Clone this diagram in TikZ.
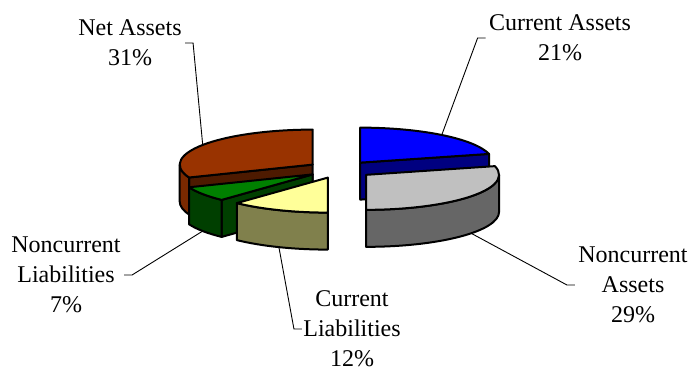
\documentclass[tikz,border=0pt]{standalone}
\usepackage{fontspec}
\setmainfont{Liberation Serif}
\usetikzlibrary{calc}

\definecolor{caTop}{HTML}{0000FF}
\definecolor{caSide}{HTML}{000080}
\definecolor{ncaTop}{HTML}{C0C0C0}
\definecolor{ncaSide}{HTML}{666666}
\definecolor{clTop}{HTML}{FFFF99}
\definecolor{clSide}{HTML}{80804C}
\definecolor{nlTop}{HTML}{008000}
\definecolor{nlSide}{HTML}{003F00}
\definecolor{naTop}{HTML}{993300}
\definecolor{naSide}{HTML}{7A2900}
\definecolor{naCut}{HTML}{4D1A00}

\tikzset{
  face/.style={draw=black, line width=1pt, line join=round},
  rad/.style={x radius=133, y radius=35},
  leader/.style={draw=black, line width=0.45pt},
  pielabel/.style={align=center, inner sep=0pt, font=\fontsize{12}{15}\selectfont},
}

\begin{document}
\begin{tikzpicture}[x=0.5pt,y=-0.5pt]
\useasboundingbox (0,0) rectangle (689,369);

% pie centre and the exploded slice centres
\coordinate (o) at (340,169.5);
\coordinate (ca)  at ($(o)+(-52.2:33 and 8.7)$);
\coordinate (nca) at ($(o)+(37.8:33 and 8.7)$);
\coordinate (cl)  at ($(o)+(111.6:33 and 8.7)$);
\coordinate (nl)  at ($(o)+(145.8:33 and 8.7)$);
\coordinate (na)  at ($(o)+(214.2:33 and 8.7)$);

% current assets
\filldraw [face, fill=caSide] (ca) -- ++(-14.4:133 and 35) -- ++(0,37) -- ($(ca)+(0,37)$) -- cycle;
\filldraw [face, fill=caTop] (ca) -- ($(ca)+(-90:133 and 35)$) arc [start angle=-90, end angle=-14.4, rad] -- cycle;

% net assets
\filldraw [face, fill=naCut] (na) -- ++(158.4:133 and 35) -- ++(0,37) -- ($(na)+(0,37)$) -- cycle;
\filldraw [face, fill=naSide] ($(na)+(158.4:133 and 35)$) arc [start angle=158.4, end angle=180, rad] -- ++(0,37) arc [start angle=180, end angle=158.4, rad] -- cycle;
\filldraw [face, fill=naTop] (na) -- ($(na)+(158.4:133 and 35)$) arc [start angle=158.4, end angle=270, rad] -- cycle;

% noncurrent liabilities
\filldraw [face, fill=nlSide] (nl) -- ++(133.2:133 and 35) -- ++(0,37) -- ($(nl)+(0,37)$) -- cycle;
\filldraw [face, fill=nlSide] ($(nl)+(133.2:133 and 35)$) arc [start angle=133.2, end angle=158.4, rad] -- ++(0,37) arc [start angle=158.4, end angle=133.2, rad] -- cycle;
\filldraw [face, fill=nlTop] (nl) -- ($(nl)+(133.2:133 and 35)$) arc [start angle=133.2, end angle=158.4, rad] -- cycle;

% current liabilities
\filldraw [face, fill=clSide] ($(cl)+(90:133 and 35)$) arc [start angle=90, end angle=133.2, rad] -- ++(0,37) arc [start angle=133.2, end angle=90, rad] -- cycle;
\filldraw [face, fill=clTop] (cl) -- ($(cl)+(90:133 and 35)$) arc [start angle=90, end angle=133.2, rad] -- cycle;

% noncurrent assets
\filldraw [face, fill=ncaSide] ($(nca)+(0:133 and 35)$) arc [start angle=0, end angle=90, rad] -- ++(0,37) arc [start angle=90, end angle=0, rad] -- cycle;
\filldraw [face, fill=ncaTop] (nca) -- ($(nca)+(-14.4:133 and 35)$) arc [start angle=-14.4, end angle=90, rad] -- cycle;

% where the leaders meet the slices
\coordinate (caTip)  at ($(ca)+(-52.2:133 and 35)$);
\coordinate (ncaTip) at ($(nca)+(37.8:133 and 35)+(0,37)$);
\coordinate (clTip)  at ($(cl)+(111.6:133 and 35)+(0,37)$);
\coordinate (nlTip)  at ($(nl)+(145.8:133 and 35)+(0,37)$);
\coordinate (naTip)  at ($(na)+(214.2:133 and 35)$);

\node [pielabel] (caLbl)  at (560,38)  {Current Assets\\21\%};
\node [pielabel] (ncaLbl) at (633,285) {Noncurrent\\Assets\\29\%};
\node [pielabel] (clLbl)  at (352,329) {Current\\Liabilities\\12\%};
\node [pielabel] (nlLbl)  at (66,275)  {Noncurrent\\Liabilities\\7\%};
\node [pielabel] (naLbl)  at (130,43)  {Net Assets\\31\%};

\draw [leader] ([xshift=-1.5pt]caLbl.west) -- ++(-8,0) -- (caTip);
\draw [leader] ([xshift=-1.5pt]ncaLbl.west) -- ++(-8,0) -- (ncaTip);
\draw [leader] ([xshift=-0.5pt]clLbl.west) -- ++(-8,0) -- (clTip);
\draw [leader] ([xshift=1.5pt]nlLbl.east) -- ++(8,0) -- (nlTip);
\draw [leader] ([xshift=1.5pt]naLbl.east) -- ++(8,0) -- (naTip);

\end{tikzpicture}
\end{document}
